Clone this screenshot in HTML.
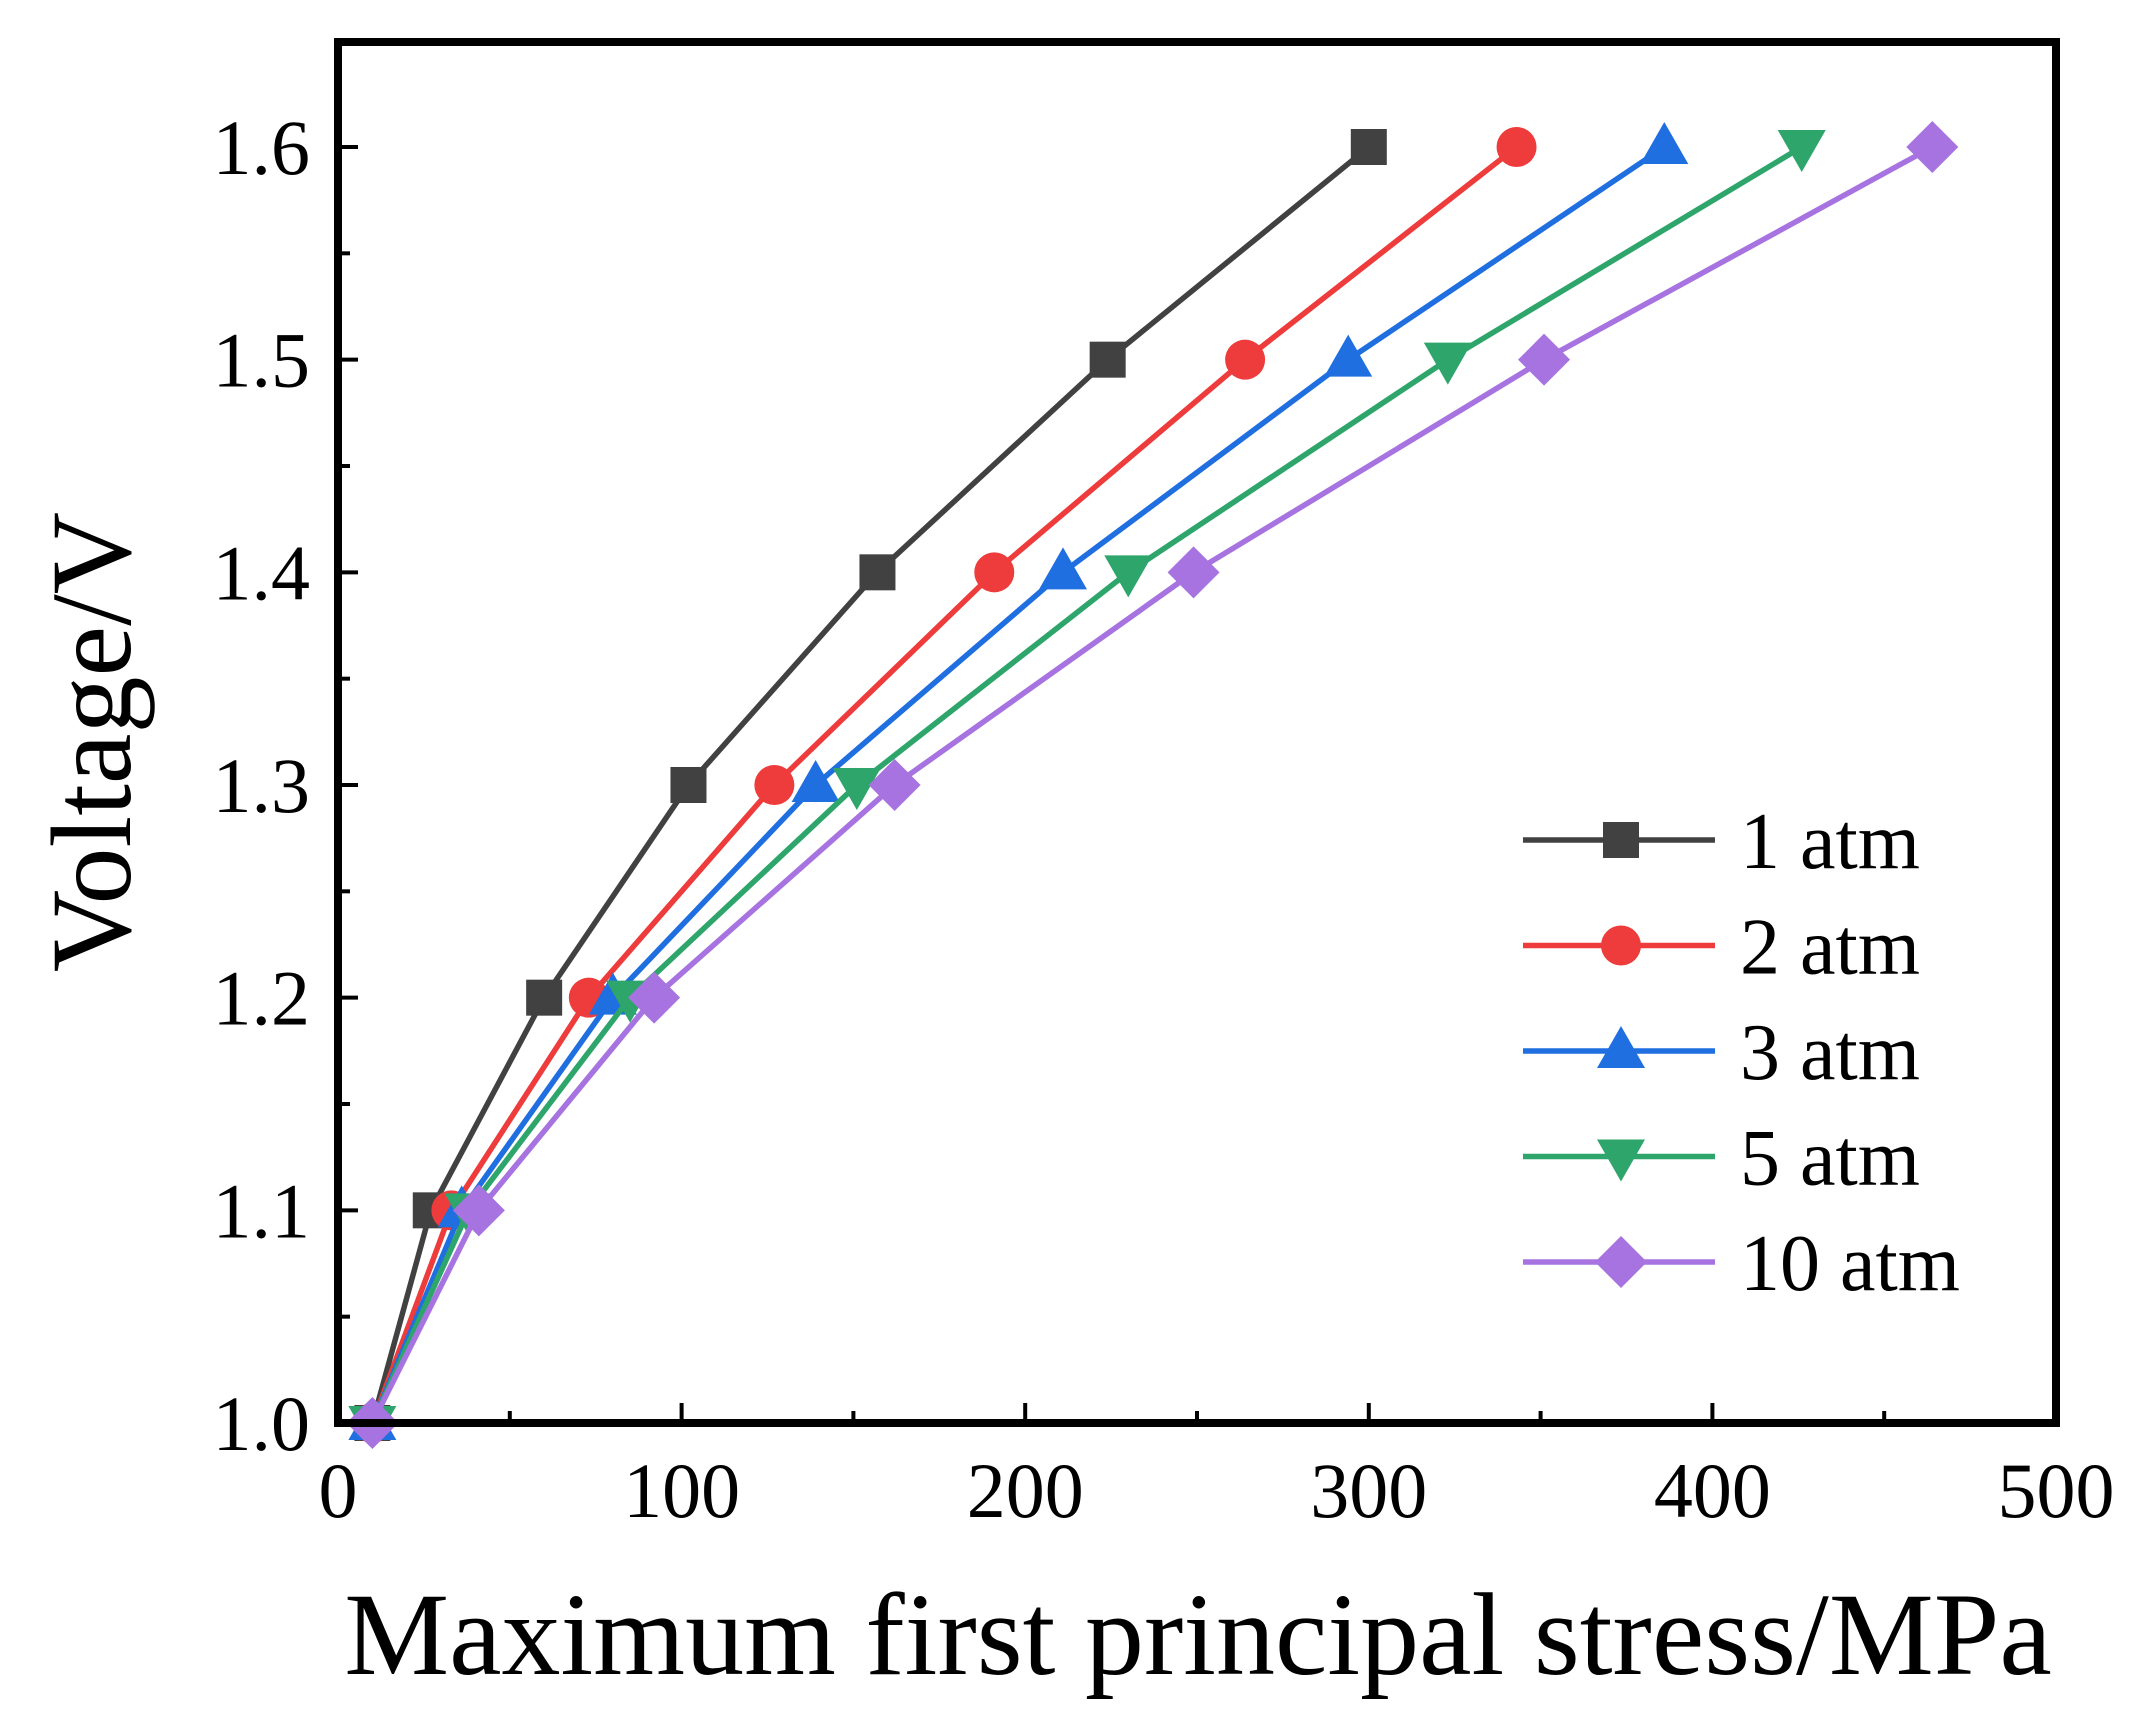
<!DOCTYPE html>
<html><head><meta charset="utf-8"><style>
html,body{margin:0;padding:0;background:#fff;}
svg{display:block;font-family:"Liberation Serif","DejaVu Serif",serif;}
</style></head><body>
<svg id="chart" width="2141" height="1712" viewBox="0 0 2141 1712">
<g id="plot"></g>
</svg>
<script>
const categoriesV = [1.0, 1.1, 1.2, 1.3, 1.4, 1.5, 1.6];
const series1atm = [10, 27, 60, 102, 157, 224, 300];
const series2atm = [10, 33, 73, 127, 191, 264, 343];
const series3atm = [10, 36, 80, 139, 211, 294, 386];
const series5atm = [10, 38, 85, 151, 230, 323, 426];
const series10atm = [10, 41, 92, 162, 249, 351, 464];
const seriesNames = ["1 atm", "2 atm", "3 atm", "5 atm", "10 atm"];
const xTickLabels = ["0", "100", "200", "300", "400", "500"];
const yTickLabels = ["1.0", "1.1", "1.2", "1.3", "1.4", "1.5", "1.6"];

const NS = "http://www.w3.org/2000/svg";
const L = 338, R = 2056, T = 42, B = 1423;
const xMin = 0, xMax = 500, yMin = 1.0, yMax = 1.6 + (1.6 - 1.0) * (147 - T) / (1423 - 147);
function xs(v){ return L + (v - xMin) / (xMax - xMin) * (R - L); }
function ys(v){ return B - (v - yMin) / (yMax - yMin) * (B - T); }
const g = document.getElementById('plot');
function mk(tag, attrs, parent){ const e = document.createElementNS(NS, tag); for (const k in attrs) e.setAttribute(k, attrs[k]); (parent||g).appendChild(e); return e; }

const colors = ["#414141", "#ee3b3b", "#1f6fe0", "#2da56b", "#a673e0"];
const shapes = ["square", "circle", "up", "down", "diamond"];
const allSeries = [series1atm, series2atm, series3atm, series5atm, series10atm];

function marker(shape, cx, cy, color, parent){
  let e;
  if (shape === "square") e = mk('rect', {x: cx-18, y: cy-18, width: 36, height: 36, fill: color}, parent);
  else if (shape === "circle") e = mk('circle', {cx: cx, cy: cy, r: 20, fill: color}, parent);
  else if (shape === "up") e = mk('polygon', {points: `${cx},${cy-25} ${cx+24},${cy+17} ${cx-24},${cy+17}`, fill: color}, parent);
  else if (shape === "down") e = mk('polygon', {points: `${cx-24},${cy-17} ${cx+24},${cy-17} ${cx},${cy+25}`, fill: color}, parent);
  else e = mk('polygon', {points: `${cx},${cy-26} ${cx+26},${cy} ${cx},${cy+26} ${cx-26},${cy}`, fill: color}, parent);
  return e;
}

for (let i = 0; i < xTickLabels.length; i++) {
  const v = xMin + i * 100;
  const x = xs(v);
  if (i > 0 && i < xTickLabels.length - 1) {
    const t = mk('line', {x1: x, y1: B, x2: x, y2: B - 20, stroke: "#000", "stroke-width": 4});
    
    
  }
  const lb = mk('text', {x: x, y: B + 94, "font-size": 78, "text-anchor": "middle", fill: "#000"});
  lb.textContent = xTickLabels[i];
  
  
  if (i < xTickLabels.length - 1) {
    const xm = xs(v + 50);
    const m = mk('line', {x1: xm, y1: B, x2: xm, y2: B - 12, stroke: "#000", "stroke-width": 4});
    
    
  }
}
for (let i = 0; i < yTickLabels.length; i++) {
  const v = categoriesV[i];
  const y = ys(v);
  if (i > 0) {
    const t = mk('line', {x1: L, y1: y, x2: L + 20, y2: y, stroke: "#000", "stroke-width": 4});
    
    
  }
  const lb = mk('text', {x: L - 28, y: y + 27, "font-size": 78, "text-anchor": "end", fill: "#000"});
  lb.textContent = yTickLabels[i];
  
  
  const ym = ys(v + 0.05);
  if (ym > T) {
    const m = mk('line', {x1: L, y1: ym, x2: L + 12, y2: ym, stroke: "#000", "stroke-width": 4});
    
    
  }
}

for (let s = 0; s < allSeries.length; s++) {
  const grp = mk('g', {});
  
  
  const pts = allSeries[s].map((v, i) => xs(v) + "," + ys(categoriesV[i])).join(" ");
  const pl = mk('polyline', {points: pts, fill: "none", stroke: colors[s], "stroke-width": 5.5}, grp);
  
  
  allSeries[s].forEach((v, i) => {
    const m = marker(shapes[s], xs(v), ys(categoriesV[i]), colors[s], grp);
    
    
  });
}

const fr = mk('rect', {x: L, y: T, width: R - L, height: B - T, fill: "none", stroke: "#000", "stroke-width": 8});



const leg = mk('g', {});


for (let s = 0; s < seriesNames.length; s++) {
  const y = 840 + s * 105.5;
  const e = mk('g', {}, leg);
  
  
  mk('line', {x1: 1523, y1: y, x2: 1715, y2: y, stroke: colors[s], "stroke-width": 5.5}, e);
  marker(shapes[s], 1621, y, colors[s], e);
  const t = mk('text', {x: 1740, y: y + 28, "font-size": 80, fill: "#000"}, e);
  t.textContent = seriesNames[s];
}

const xt = mk('text', {x: 1198, y: 1674, "font-size": 118, "text-anchor": "middle", fill: "#000"});
xt.textContent = "Maximum first principal stress/MPa";


const yt = mk('text', {x: 0, y: 0, "font-size": 114, "text-anchor": "middle", fill: "#000", transform: "translate(130,742) rotate(-90)"});
yt.textContent = "Voltage/V";


</script>
</body></html>
